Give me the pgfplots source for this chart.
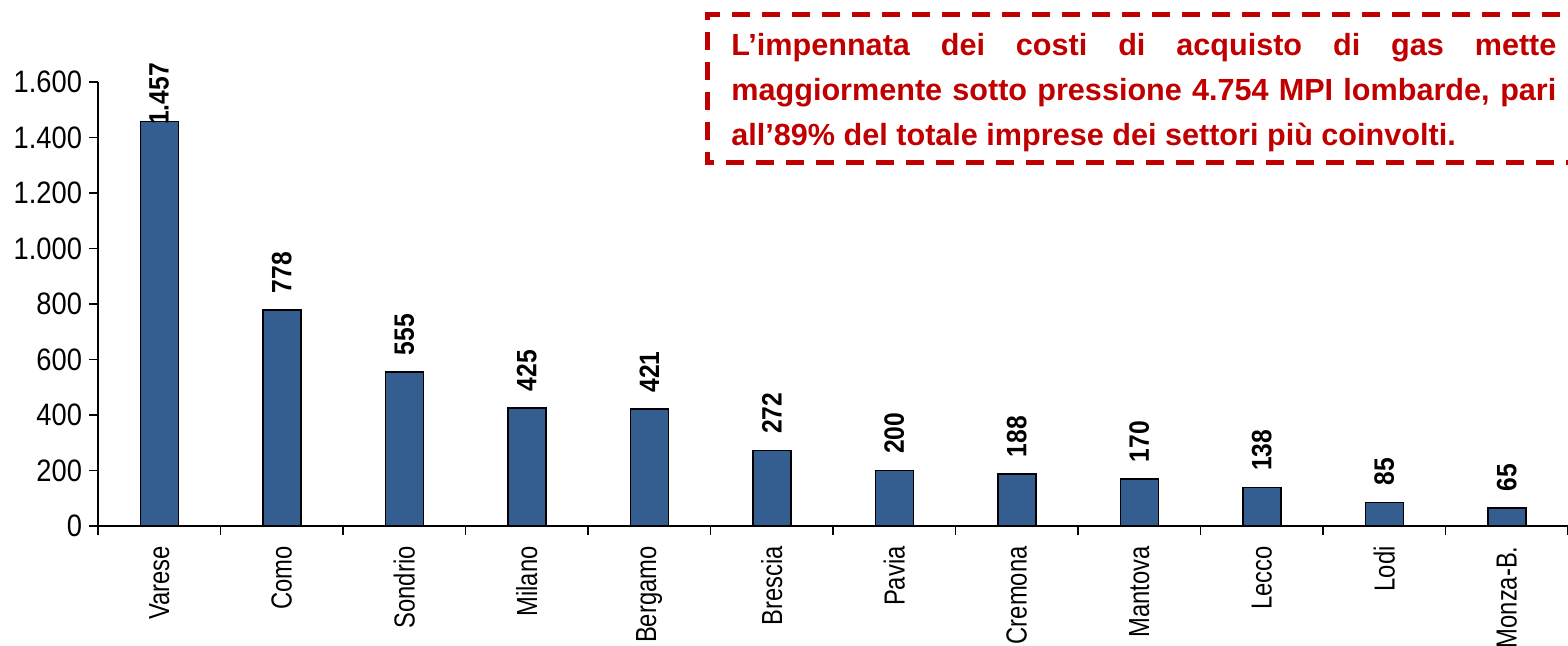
\documentclass[border=0pt]{standalone}
\usepackage{fontspec}
\setmainfont{Liberation Sans}
\newfontfamily\narrow[FakeStretch=0.88]{Liberation Sans}
\newfontfamily\xlabfont[FakeStretch=0.82]{Liberation Sans}
\usepackage{pgfplots}
\usepackage{pgfplotstable}
\pgfplotsset{compat=1.18}
\definecolor{barblue}{HTML}{345E8F}
\definecolor{boxred}{HTML}{C00000}

\pgfplotstableread{
x y gap label
0 1457 -2 Varese
1 778 8 Como
2 555 8 Sondrio
3 425 8 Milano
4 421 8 Bergamo
5 272 8 Brescia
6 200 8 Pavia
7 188 8 Cremona
8 170 8 Mantova
9 138 8 Lecco
10 85 8 Lodi
11 65 8 Monza-B.
}\datatable

\begin{document}
\begin{tikzpicture}
\useasboundingbox (0,0) rectangle (784pt,323pt);
\begin{axis}[
    at={(49pt,60pt)}, anchor=south west,
    scale only axis,
    width=735pt, height=222pt,
    xmin=-0.5, xmax=11.5,
    ymin=0, ymax=1600,
    clip=false,
    axis x line*=bottom, axis y line*=left,
    axis line style={-, line width=0.75pt},
    every tick/.style={black, line width=0.75pt},
    tick align=outside,
    major tick length=4.5pt,
    ytick={0,200,...,1600},
    xtick={0,...,11},
    xticklabels={Varese,Como,Sondrio,Milano,Bergamo,Brescia,Pavia,Cremona,Mantova,Lecco,Lodi,Monza-B.},
    major x tick style={draw=none},
    extra x ticks={-0.5,0.5,...,11.5},
    extra x tick labels={},
    extra x tick style={major x tick style={draw=black}},
    xticklabel style={yshift=-5.5pt, rotate=90, anchor=east, inner sep=0pt,
        font=\xlabfont\fontsize{14.5}{16}\selectfont},
    yticklabel style={font=\narrow\fontsize{15.5}{16}\selectfont},
    /pgf/number format/.cd, 1000 sep={.}, assume math mode=true,
]
\addplot[ybar, bar width=19pt, fill=barblue, draw=black, line width=0.75pt,
    nodes near coords,
    visualization depends on={\thisrow{gap} \as \gap},
    nodes near coords style={rotate=90, anchor=west, inner sep=0pt, xshift=\gap pt,
        font=\narrow\bfseries\fontsize{14}{16}\selectfont, black}]
    table[x=x, y=y] {\datatable};
\end{axis}
\draw[boxred, line width=2.5pt, dash pattern=on 9pt off 6pt]
    (795pt,315.5pt) -- (353.5pt,315.5pt) -- (353.5pt,241.5pt) -- (795pt,241.5pt);
\node[anchor=north west, inner sep=0pt, text width=412.5pt, align=justify,
    text=boxred, font=\bfseries\fontsize{15.3}{22.5}\selectfont]
    at (365.5pt,306.5pt)
    {\hyphenpenalty=10000 L’impennata dei costi di acquisto di gas mette\linebreak
     maggiormente sotto pressione 4.754 MPI lombarde, pari\linebreak
     all’89\% del totale imprese dei settori più coinvolti.};
\end{tikzpicture}
\end{document}
